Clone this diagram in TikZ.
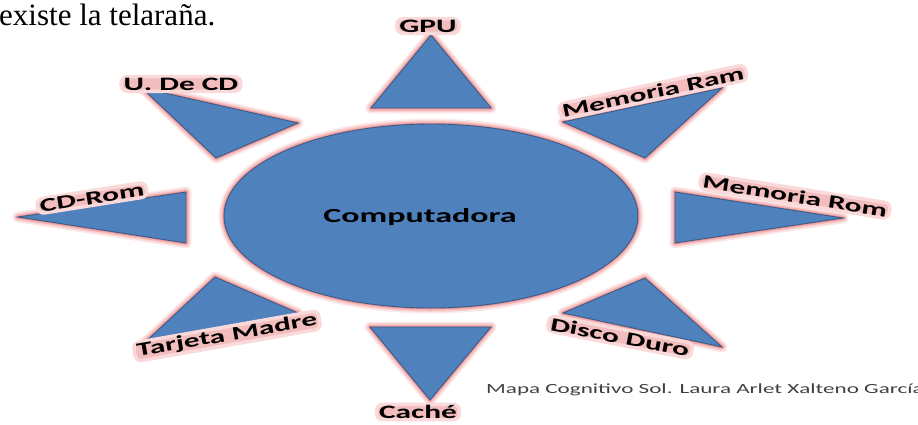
\documentclass[tikz,border=0pt]{standalone}
\usepackage{fontspec}
\setmainfont{Liberation Serif}
\newfontfamily\calib{Carlito}
\definecolor{sunblue}{RGB}{79,129,189}
\definecolor{sunedge}{RGB}{56,93,138}
\definecolor{glow}{RGB}{238,140,140}
\definecolor{glowtxt}{RGB}{240,160,160}
\definecolor{footgray}{RGB}{64,64,64}
\newcommand{\lbl}[1]{\scalebox{1.65}[1]{#1}}
\begin{document}
\begin{tikzpicture}[x=1pt,y=-1pt,
  ray/.style={fill=sunblue, draw=sunedge, line width=0.9pt, line join=miter},
  lab/.style={inner xsep=2.5pt, inner ysep=1pt, rounded corners=6pt,
    fill=glowtxt!70, draw=glowtxt!40, line width=3.5pt,
    font=\calib\bfseries\fontsize{19}{19}\selectfont, text=black},
]
\useasboundingbox (0,0) rectangle (918,424);
% top text
\node[anchor=base west, inner sep=0pt, font=\fontsize{31}{31}\selectfont] (top) at (-1,25) {existe la telaraña.};
% rays with glow
\foreach \n/\a/\b/\c in {gpu/{431,35}/{371,108}/{491,108},
                         ucd/{142,88}/{298,123}/{216,158},
                         ram/{563,122}/{722,88}/{645,158},
                         rom/{675,192}/{843,218}/{675,243},
                         cdr/{18,217}/{186,192}/{186,243},
                         tm/{215,277}/{298,313}/{140,347},
                         cac/{370,327}/{491,327}/{430,400},
                         dd/{563,313}/{645,278}/{722,347}}{
  \coordinate (\n1) at (\a);
  \coordinate (\n2) at (\b);
  \coordinate (\n3) at (\c);
  \foreach \w/\p in {11/18,8/38,5/65,2.5/95}
    \draw[glow!\p, line width=\w pt, line join=round] (\n1)--(\n2)--(\n3)--cycle;
  \draw[ray] (\n1)--(\n2)--(\n3)--cycle;
}
% central ellipse
\coordinate (ctr) at (431,216);
\foreach \w/\p in {11/18,8/38,5/65,2.5/95}
  \draw[glow!\p, line width=\w pt] (ctr) ellipse [x radius=207, y radius=92];
\draw[ray] (ctr) ellipse [x radius=207, y radius=92];
\node[inner sep=0pt, anchor=base, font=\calib\bfseries\fontsize{20}{20}\selectfont] (comp) at (420,222) {\scalebox{1.7}[1]{Computadora}};
% labels
\node[lab] (lgpu) at (428,26) {\lbl{GPU}};
\node[lab] (lucd) at (181,84) {\lbl{U. De CD}};
\node[lab, rotate=12] (lram) at (653,92) {\lbl{Memoria Ram}};
\node[lab, rotate=-9] (lrom) at (795,196) {\lbl{Memoria Rom}};
\node[lab, rotate=9] (lcdr) at (92,198) {\lbl{CD-Rom}};
\node[lab, rotate=10] (ltm) at (227,336) {\lbl{Tarjeta Madre}};
\node[lab] (lcac) at (418,412) {\lbl{Caché}};
\node[lab, rotate=-11] (ldd) at (620,337) {\lbl{Disco Duro}};
% footer
\node[anchor=base west, inner sep=0pt, text=footgray, font=\calib\fontsize{14}{14}\selectfont] (foot) at (486,393) {\scalebox{1.65}[1]{Mapa Cognitivo Sol. Laura Arlet Xalteno García}};
\end{tikzpicture}
\end{document}
